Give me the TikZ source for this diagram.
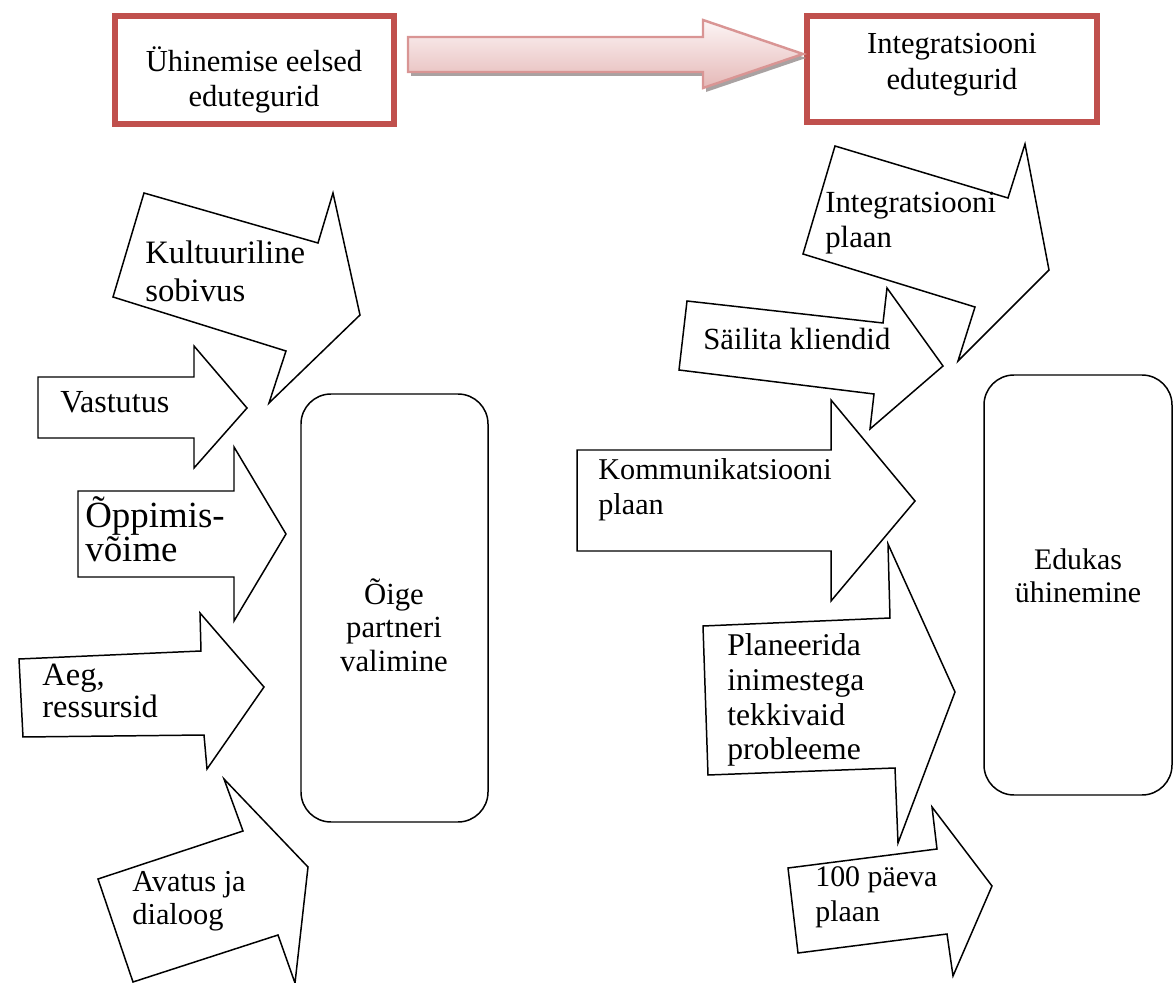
\documentclass[tikz,border=0pt]{standalone}
\usepackage{fontspec}
\setmainfont{Liberation Serif}
\definecolor{boxred}{HTML}{C0504D}
\definecolor{arrowline}{HTML}{D99594}
\definecolor{arrowtop}{HTML}{FCF5F5}
\definecolor{arrowbottom}{HTML}{E5B8B7}
\definecolor{shadowgray}{HTML}{A9A2A2}
\tikzset{
  blockarrow/.style={draw=black, line width=0.85pt, fill=white, line join=miter},
  redbox/.style={draw=boxred, line width=3.6pt},
  roundbox/.style={draw=black, line width=0.85pt, rounded corners=0.6cm},
  lbl/.style={inner sep=0pt, align=left, anchor=west, font=\fontsize{17.5}{19.5}\selectfont},
  midlbl/.style={lbl, align=center, anchor=center},
}

\begin{document}
\begin{tikzpicture}[x=0.02cm,y=-0.02cm]
  \useasboundingbox (0,0) rectangle (1174,983);

  \draw[redbox] (115,16) rectangle (394,124);
  \draw[redbox] (807,16) rectangle (1097,122);
  \node[midlbl, font=\fontsize{17.4}{19.9}\selectfont] (pre) at (254,80) {Ühinemise eelsed\\edutegurid};
  \node[midlbl, font=\fontsize{17.4}{20.5}\selectfont] (integ) at (952,65) {Integratsiooni\\edutegurid};

  \path[fill=shadowgray, shift={(3,4)}] (408,37) -- (703,37) -- (703,20) -- (803,54) -- (703,88) -- (703,72) -- (408,72) -- cycle;
  \draw[draw=arrowline, line width=1.4pt, top color=arrowtop, bottom color=arrowbottom]
    (408,37) -- (703,37) -- (703,20) -- (803,54) -- (703,88) -- (703,72) -- (408,72) -- cycle;

  \draw[blockarrow] (144,193) -- (318,243) -- (333,193) -- (360,315) -- (269,403) -- (286,351) -- (113,297) -- cycle;
  \draw[blockarrow] (38,377) -- (194,377) -- (194,346) -- (247,408) -- (194,468) -- (194,438) -- (38,438) -- cycle;
  \draw[blockarrow] (78,491) -- (234,491) -- (234,447) -- (286,534) -- (234,621) -- (234,577) -- (78,577) -- cycle;
  \draw[blockarrow] (19,659) -- (201,651) -- (200,613) -- (264,687) -- (207,769) -- (204,735) -- (23,737) -- cycle;
  \draw[blockarrow] (98,879) -- (243,831) -- (224,779) -- (308,867) -- (295,983) -- (278,935) -- (133,982) -- cycle;

  \draw[blockarrow] (835,146) -- (1008,198) -- (1025,144) -- (1049,270) -- (958,361) -- (975,307) -- (803,254) -- cycle;
  \draw[blockarrow] (687,301) -- (883,323) -- (887,288) -- (943,366) -- (870,429) -- (874,394) -- (679,370) -- cycle;
  \draw[blockarrow] (577,450) -- (831,450) -- (831,400) -- (915,501) -- (831,601) -- (831,551) -- (577,551) -- cycle;
  \draw[blockarrow] (703,626) -- (890,618) -- (888,544) -- (955,692) -- (898,843) -- (895,768) -- (708,775) -- cycle;
  \draw[blockarrow] (788,868) -- (937,849) -- (932,807) -- (992,886) -- (953,976) -- (947,934) -- (798,953) -- cycle;

  \draw[roundbox] (301,394) rectangle (488,822);
  \draw[roundbox] (984,375) rectangle (1172,795);

  \node[lbl, font=\fontsize{18.6}{21.6}\selectfont] (kultuur) at (145,271) {Kultuuriline\\sobivus};
  \node[lbl, font=\fontsize{18.3}{20}\selectfont] (vastutus) at (60,402) {Vastutus};
  \node[lbl, font=\fontsize{21}{18.3}\selectfont] (oppimis) at (85,529) {Õppimis-\\võime};
  \node[lbl, font=\fontsize{18.5}{18.3}\selectfont] (aeg) at (42,691) {Aeg,\\ressursid};
  \node[lbl, font=\fontsize{17.3}{18.8}\selectfont] (avatus) at (132,901) {Avatus ja\\dialoog};
  \node[midlbl, font=\fontsize{17.5}{19}\selectfont] (partner) at (394,625) {Õige\\partneri\\valimine};

  \node[lbl] (intplaan) at (825,223) {Integratsiooni\\plaan};
  \node[lbl] (sailita) at (703,339) {Säilita kliendid};
  \node[lbl, font=\fontsize{17.2}{19.9}\selectfont] (komm) at (598,490) {Kommunikatsiooni\\plaan};
  \node[lbl, font=\fontsize{18}{19.8}\selectfont] (planeer) at (727,700) {Planeerida\\inimestega\\tekkivaid\\probleeme};
  \node[lbl, font=\fontsize{17}{19.9}\selectfont] (paeva) at (815,897) {100 päeva\\plaan};
  \node[midlbl, font=\fontsize{17}{18.8}\selectfont] (edukas) at (1078,576) {Edukas\\ühinemine};
\end{tikzpicture}
\end{document}
